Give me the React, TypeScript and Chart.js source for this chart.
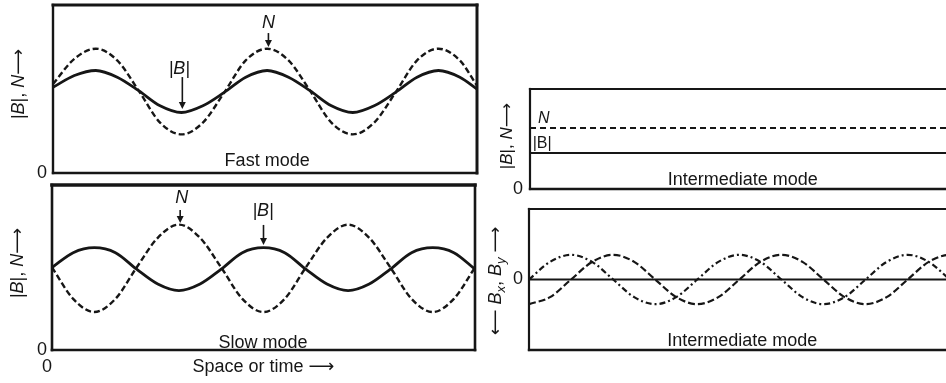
import React, { useEffect, useRef } from "react";
import { Chart, registerables } from "chart.js";

Chart.register(...registerables);

const INK = "#161616";
const FAMILY = "'Liberation Sans', Arial, 'DejaVu Sans', sans-serif";

// ---------- data (x in quarter-wavelength units) ----------
const fastX = [0, 0.5, 1, 1.5, 2, 2.5, 3, 3.5, 4, 4.5, 5, 5.5, 6, 6.5, 7, 7.5, 8, 8.5, 9, 9.5, 9.9];
const fastN = [0.53, 0.68, 0.74, 0.67, 0.49, 0.3, 0.23, 0.3, 0.48, 0.67, 0.74, 0.67, 0.49, 0.3, 0.23, 0.3, 0.48, 0.67, 0.74, 0.67, 0.52];
const fastB = [0.51, 0.58, 0.61, 0.57, 0.49, 0.4, 0.36, 0.4, 0.48, 0.57, 0.61, 0.57, 0.49, 0.4, 0.36, 0.4, 0.48, 0.57, 0.61, 0.57, 0.5];

const slowX = [0, 0.5, 1, 1.5, 2, 2.5, 3, 3.5, 4, 4.5, 5, 5.5, 6, 6.5, 7, 7.5, 8, 8.5, 9, 9.5, 10];
const slowB = [0.5, 0.59, 0.62, 0.59, 0.49, 0.4, 0.36, 0.4, 0.49, 0.59, 0.62, 0.59, 0.49, 0.4, 0.36, 0.4, 0.49, 0.59, 0.62, 0.59, 0.49];
const slowN = [0.5, 0.31, 0.23, 0.31, 0.5, 0.68, 0.76, 0.68, 0.5, 0.31, 0.23, 0.31, 0.5, 0.68, 0.76, 0.68, 0.5, 0.31, 0.23, 0.31, 0.5];

const interX = [0, 10.6];
const interN = [0.61, 0.61];
const interB = [0.36, 0.36];

const waveX = [0, 0.5, 1, 1.5, 2, 2.5, 3, 3.5, 4, 4.5, 5, 5.5, 6, 6.5, 7, 7.5, 8, 8.5, 9, 9.5, 10, 10.5];
const waveBx = [-0.35, -0.25, 0, 0.25, 0.35, 0.25, 0, -0.25, -0.35, -0.25, 0, 0.25, 0.35, 0.25, 0, -0.25, -0.35, -0.25, 0, 0.25, 0.35, 0.25];
const waveBy = [0, 0.25, 0.35, 0.25, 0, -0.25, -0.35, -0.25, 0, 0.25, 0.35, 0.25, 0, -0.25, -0.35, -0.25, 0, 0.25, 0.35, 0.25, 0, -0.25];
const zeroX = [0, 10.6];
const zeroY = [0, 0];

const yTickLabels = ["0"];

// ---------- helpers ----------
const pts = (xs: number[], ys: number[]) => xs.map((x, i) => ({ x, y: ys[i] }));

function drawRich(ctx: CanvasRenderingContext2D, r: any) {
  ctx.save();
  ctx.translate(r.cx, r.cy);
  ctx.rotate(-Math.PI / 2);
  ctx.textBaseline = "middle";
  ctx.textAlign = "left";
  const fontOf = (p: any) => `${p.italic ? "italic " : ""}${p.sub ? Math.round(r.size * 0.72) : r.size}px ${FAMILY}`;
  let total = 0;
  for (const p of r.parts) {
    ctx.font = fontOf(p);
    total += ctx.measureText(p.t).width;
  }
  let x = -total / 2;
  for (const p of r.parts) {
    ctx.font = fontOf(p);
    ctx.fillText(p.t, x, p.sub ? r.size * 0.3 : 0);
    x += ctx.measureText(p.t).width;
  }
  ctx.restore();
}

const framePlugin = {
  id: "frame",
  afterDatasetsDraw(chart: any, _a: any, opts: any) {
    const { ctx, chartArea: a } = chart;
    const s = opts.sides || {};
    ctx.save();
    ctx.strokeStyle = INK;
    ctx.lineCap = "square";
    const line = (w: number, x1: number, y1: number, x2: number, y2: number) => {
      if (!w) return;
      ctx.lineWidth = w;
      ctx.beginPath();
      ctx.moveTo(x1, y1);
      ctx.lineTo(x2, y2);
      ctx.stroke();
    };
    line(s.top, a.left, a.top, a.right, a.top);
    line(s.bottom, a.left, a.bottom, a.right, a.bottom);
    line(s.left, a.left, a.top, a.left, a.bottom);
    line(s.right, a.right, a.top, a.right, a.bottom);
    ctx.restore();
  },
};

const notesPlugin = {
  id: "notes",
  afterDraw(chart: any, _a: any, opts: any) {
    const { ctx } = chart;
    const xs = chart.scales.x;
    const ys = chart.scales.y;
    ctx.save();
    ctx.fillStyle = INK;
    ctx.strokeStyle = INK;
    for (const t of opts.texts || []) {
      ctx.font = `${t.italic ? "italic " : ""}${t.size}px ${FAMILY}`;
      ctx.textAlign = "center";
      ctx.textBaseline = "alphabetic";
      ctx.fillText(t.text, xs.getPixelForValue(t.x), ys.getPixelForValue(t.y));
    }
    for (const ar of opts.arrows || []) {
      const x = xs.getPixelForValue(ar.x);
      const y1 = ys.getPixelForValue(ar.from);
      const y2 = ys.getPixelForValue(ar.to);
      ctx.lineWidth = 1.6;
      ctx.beginPath();
      ctx.moveTo(x, y1);
      ctx.lineTo(x, y2 - 5);
      ctx.stroke();
      ctx.beginPath();
      ctx.moveTo(x - 3.5, y2 - 7);
      ctx.lineTo(x + 3.5, y2 - 7);
      ctx.lineTo(x, y2);
      ctx.closePath();
      ctx.fill();
    }
    for (const r of opts.rich || []) drawRich(ctx, r);
    ctx.restore();
  },
};

const noPad = (ax: any) => {
  ax.paddingTop = 0;
  ax.paddingBottom = 0;
  ax.paddingLeft = 0;
  ax.paddingRight = 0;
};

function yAxis(min: number, max: number, width: number, pad: number) {
  return {
    type: "linear",
    min,
    max,
    afterBuildTicks: (ax: any) => {
      ax.ticks = yTickLabels.map((l) => ({ value: Number(l) }));
    },
    grid: { display: false, drawTicks: false },
    border: { display: false },
    ticks: { padding: pad, color: INK, font: { size: 18, family: FAMILY } },
    afterFit: (ax: any) => {
      ax.width = width;
      noPad(ax);
    },
  };
}

function xHidden(min: number, max: number) {
  return { type: "linear", min, max, display: false };
}

const solid = (data: any, w = 2.8) => ({
  data,
  borderColor: INK,
  borderWidth: w,
  pointRadius: 0,
  fill: false,
  cubicInterpolationMode: "monotone",
});
const dashed = (data: any, dash: number[], w = 2.4) => ({
  ...solid(data, w),
  borderDash: dash,
});

function baseOptions(padding: any, scales: any, plugins: any) {
  return {
    responsive: false,
    animation: false,
    devicePixelRatio: 1,
    layout: { padding },
    scales,
    plugins: {
      legend: { display: false },
      tooltip: { enabled: false },
      ...plugins,
    },
  };
}

// ---------- panel configs ----------
const panels = [
  {
    left: 0,
    top: 0,
    width: 480,
    height: 180,
    config: () => ({
      type: "line",
      data: { datasets: [solid(pts(fastX, fastB)), dashed(pts(fastX, fastN), [6, 3])] },
      options: baseOptions(
        { top: 5, right: 3, bottom: 7, left: 0 },
        { x: xHidden(0, 9.9), y: yAxis(0, 1, 53, 6) },
        {
          frame: { sides: { top: 3, bottom: 2.4, left: 2.4, right: 3 } },
          notes: {
            texts: [
              { text: "N", x: 5.03, y: 0.863, size: 18, italic: true },
              { text: "|B|", x: 2.95, y: 0.59, size: 18, italic: true },
              { text: "Fast mode", x: 5.0, y: 0.042, size: 18 },
            ],
            arrows: [
              { x: 5.03, from: 0.833, to: 0.75 },
              { x: 3.02, from: 0.571, to: 0.381 },
            ],
            rich: [
              {
                cx: 19,
                cy: 84,
                size: 18,
                parts: [{ t: "|" }, { t: "B", italic: true }, { t: "|, " }, { t: "N", italic: true }, { t: "⟶" }],
              },
            ],
          },
        }
      ),
      plugins: [framePlugin, notesPlugin],
    }),
  },
  {
    left: 0,
    top: 180,
    width: 480,
    height: 203,
    config: () => ({
      type: "line",
      data: { datasets: [solid(pts(slowX, slowB)), dashed(pts(slowX, slowN), [6, 3])] },
      options: baseOptions(
        { top: 5, right: 5, bottom: 0, left: 0 },
        {
          x: {
            type: "linear",
            min: 0,
            max: 10,
            afterBuildTicks: (ax: any) => {
              ax.ticks = [{ value: 0 }];
            },
            grid: { display: false, drawTicks: false },
            border: { display: false },
            ticks: { padding: 6, align: "end", maxRotation: 0, color: INK, font: { size: 18, family: FAMILY } },
            title: {
              display: true,
              text: "Space or time ⟶",
              color: INK,
              font: { size: 18, family: FAMILY },
              padding: { top: 0, bottom: 5 },
            },
            afterFit: (ax: any) => {
              ax.height = 33;
              noPad(ax);
            },
          },
          y: yAxis(0, 1, 52, 5),
        },
        {
          frame: { sides: { top: 3.6, bottom: 2.6, left: 2.6, right: 2.6 } },
          notes: {
            texts: [
              { text: "N", x: 3.07, y: 0.89, size: 18, italic: true },
              { text: "|B|", x: 4.99, y: 0.812, size: 18, italic: true },
              { text: "Slow mode", x: 4.99, y: 0.012, size: 18 },
            ],
            arrows: [
              { x: 3.03, from: 0.848, to: 0.77 },
              { x: 5.0, from: 0.758, to: 0.636 },
            ],
            rich: [
              {
                cx: 18,
                cy: 83,
                size: 18,
                parts: [{ t: "|" }, { t: "B", italic: true }, { t: "|, " }, { t: "N", italic: true }, { t: "⟶" }],
              },
            ],
          },
        }
      ),
      plugins: [framePlugin, notesPlugin],
    }),
  },
  {
    left: 480,
    top: 70,
    width: 500,
    height: 125,
    config: () => ({
      type: "line",
      data: {
        datasets: [solid(pts(interX, interB), 2.2), dashed(pts(interX, interN), [6, 4], 1.8)],
      },
      options: baseOptions(
        { top: 19, right: 5, bottom: 6, left: 0 },
        { x: xHidden(0, 10.6), y: yAxis(0, 1, 50, 7) },
        {
          frame: { sides: { top: 2.2, bottom: 2.4, left: 2.2 } },
          notes: {
            texts: [
              { text: "N", x: 0.33, y: 0.66, size: 16, italic: true },
              { text: "|B|", x: 0.29, y: 0.41, size: 16 },
              { text: "Intermediate mode", x: 5.07, y: 0.04, size: 18 },
            ],
            rich: [
              {
                cx: 27,
                cy: 66,
                size: 17,
                parts: [{ t: "|" }, { t: "B", italic: true }, { t: "|, " }, { t: "N", italic: true }, { t: "⟶" }],
              },
            ],
          },
        }
      ),
      plugins: [framePlugin, notesPlugin],
    }),
  },
  {
    left: 480,
    top: 195,
    width: 500,
    height: 165,
    config: () => ({
      type: "line",
      data: {
        datasets: [
          solid(pts(zeroX, zeroY), 2),
          dashed(pts(waveX, waveBx), [7, 3], 2.2),
          dashed(pts(waveX, waveBy), [6, 3, 2, 3], 2.2),
        ],
      },
      options: baseOptions(
        { top: 14, right: 5, bottom: 10, left: 0 },
        { x: xHidden(0, 10.6), y: yAxis(-1, 1, 49, 6) },
        {
          frame: { sides: { top: 2.2, bottom: 2.4, left: 2.2 } },
          notes: {
            texts: [{ text: "Intermediate mode", x: 5.07, y: -0.943, size: 18 }],
            rich: [
              {
                cx: 16,
                cy: 86,
                size: 18,
                parts: [
                  { t: "⟵ " },
                  { t: "B", italic: true },
                  { t: "x", italic: true, sub: true },
                  { t: ", " },
                  { t: "B", italic: true },
                  { t: "y", italic: true, sub: true },
                  { t: " ⟶" },
                ],
              },
            ],
          },
        }
      ),
      plugins: [framePlugin, notesPlugin],
    }),
  },
];

function Panel({ p }: { p: any }) {
  const ref = useRef<HTMLCanvasElement | null>(null);
  useEffect(() => {
    if (!ref.current) return;
    const chart = new Chart(ref.current, p.config());
    return () => chart.destroy();
  }, [p]);
  return (
    <canvas
      ref={ref}
      width={p.width}
      height={p.height}
      style={{ position: "absolute", left: p.left, top: p.top, width: p.width, height: p.height }}
    />
  );
}

export default function App() {
  return (
    <div
      style={{
        position: "absolute",
        left: 0,
        top: 0,
        width: 946,
        height: 383,
        overflow: "hidden",
        background: "#ffffff",
      }}
    >
      {panels.map((p, i) => (
        <Panel key={i} p={p} />
      ))}
    </div>
  );
}
